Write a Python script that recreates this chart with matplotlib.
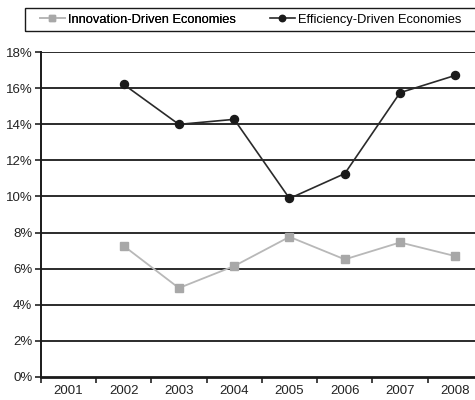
import matplotlib
matplotlib.use("Agg")
import matplotlib.pyplot as plt
from matplotlib.ticker import FuncFormatter, FixedLocator
from matplotlib.patches import Rectangle
from matplotlib import font_manager

years = ["2001", "2002", "2003", "2004", "2005", "2006", "2007", "2008"]
innovation = [None, 7.26, 4.92, 6.14, 7.76, 6.51, 7.45, 6.69]
efficiency = [None, 16.22, 14.0, 14.28, 9.89, 11.27, 15.76, 16.72]
yticks = [0, 2, 4, 6, 8, 10, 12, 14, 16, 18]

plt.rcParams['font.family'] = ['Liberation Sans', 'DejaVu Sans']

names = {f.name for f in font_manager.fontManager.ttflist}
if "Liberation Sans Narrow" in names:
    leg_prop = {"family": ["Liberation Sans Narrow"], "size": 10.3}
else:
    leg_prop = {"family": ["Liberation Sans"], "size": 9.3}

W, H = 475, 400
fig = plt.figure(figsize=(W / 100, H / 100), dpi=100)
left, right, top, bottom = 40.7, 483.0, 52.3, 376.7
ax = fig.add_axes([left / W, 1 - bottom / H, (right - left) / W, (bottom - top) / H])

x = list(range(len(years)))
xi = [i for i, v in zip(x, innovation) if v is not None]
vi = [v for v in innovation if v is not None]
xe = [i for i, v in zip(x, efficiency) if v is not None]
ve = [v for v in efficiency if v is not None]

li, = ax.plot(xi, vi, color="#b8b8b8", lw=1.3, marker="s", ms=5.5,
              mfc="#a8a8a8", mec="#a8a8a8", label="Innovation-Driven Economies", zorder=3)
le, = ax.plot(xe, ve, color="#2a2a2a", lw=1.2, marker="o", ms=5.8,
              mfc="#1a1a1a", mec="#1a1a1a", label="Efficiency-Driven Economies", zorder=3)

ax.set_xlim(-0.5, len(years) - 0.5)
ax.set_ylim(0, 18)
ax.set_yticks(yticks)
ax.yaxis.set_major_formatter(FuncFormatter(lambda v, p: f"{int(v)}%"))
ax.set_xticks(x)
ax.set_xticklabels(years)
ax.xaxis.set_minor_locator(FixedLocator([i - 0.5 for i in range(len(years) + 1)]))
ax.tick_params(axis="x", which="major", length=0, pad=6, labelsize=9.5, colors="#222222")
ax.tick_params(axis="x", which="minor", length=4, width=1.2, color="#222222", direction="out")
ax.tick_params(axis="y", length=4, width=1.2, pad=2, labelsize=9.5, colors="#222222", direction="out")

for v in yticks[1:]:
    ax.axhline(v, color="#1a1a1a", lw=1.3, zorder=1)

for s in ["top", "right"]:
    ax.spines[s].set_visible(False)
ax.spines["left"].set_linewidth(1.4)
ax.spines["bottom"].set_linewidth(2.0)
ax.spines["left"].set_color("#1a1a1a")
ax.spines["bottom"].set_color("#1a1a1a")

# legend frame
fig.patches.append(Rectangle((25 / W, 1 - 31 / H), (476 - 25) / W, 23 / H,
                             transform=fig.transFigure, fill=False,
                             edgecolor="#1a1a1a", lw=1.0))

def entry(line, x0):
    lg = fig.legend(handles=[line], loc="center left",
                    bbox_to_anchor=(x0 / W, 1 - 19.5 / H), frameon=False,
                    prop=leg_prop, handlelength=1.9, handletextpad=0.25,
                    borderpad=0, borderaxespad=0, markerscale=0.8)
    return lg

l1 = entry(li, 40)
fig.add_artist(l1)
entry(le, 270)

fig.savefig("out.png", dpi=100)
